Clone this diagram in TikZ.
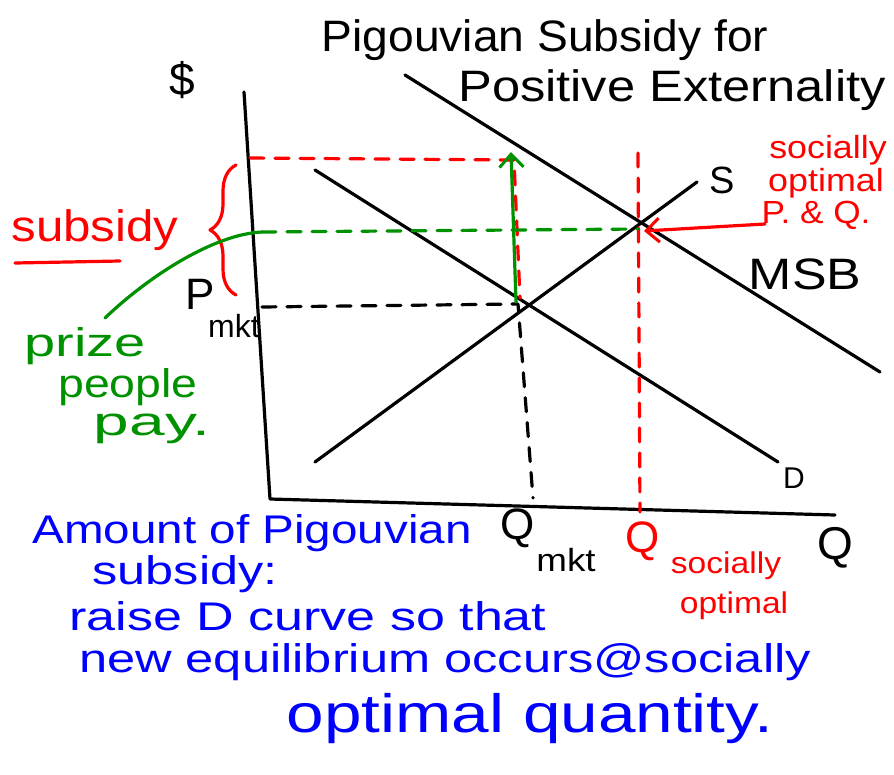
\documentclass[tikz,border=0pt]{standalone}
\usepackage{fontspec}
\usepackage{graphicx}
\setmainfont{Liberation Sans}
\usetikzlibrary{arrows.meta,decorations.pathreplacing}
\definecolor{hred}{RGB}{255,0,0}
\definecolor{hgreen}{RGB}{0,145,0}
\definecolor{hblue}{RGB}{0,0,255}
\newcommand{\hsx}[2]{\scalebox{#1}[1]{#2}}
\tikzset{
  pen/.style={line width=3.2pt, line cap=round, line join=round},
  dashpen/.style={pen, dash pattern=on 14pt off 11pt},
  lbl/.style={inner sep=0pt, font=\fontsize{44}{46}\selectfont},
  grn/.style={inner sep=0pt, text=hgreen, font=\fontsize{40}{42}\selectfont},
  sub/.style={inner sep=0pt, font=\fontsize{32}{34}\selectfont},
  bluetxt/.style={inner sep=0pt, text=hblue, font=\fontsize{40}{42}\selectfont},
}
\begin{document}
\begin{tikzpicture}[x=1pt,y=-1pt]
\useasboundingbox (0,0) rectangle (894,774);
\fill[white] (0,0) rectangle (894,774);
% key points
\coordinate (ytop) at (244,92);
\coordinate (orig) at (270,499);
\coordinate (xend) at (835,515);
\coordinate (msbA) at (405,75);
\coordinate (msbB) at (880,372);
\coordinate (dA) at (315,170);
\coordinate (dB) at (778,462);
\coordinate (sA) at (315,462);
\coordinate (sB) at (697,182);
\coordinate (e1) at (518,304);
\coordinate (e2) at (638,229);
\coordinate (pmk) at (262,307);
\coordinate (qmk) at (533,498);
\coordinate (rtop) at (638,153);
\coordinate (rbot) at (640,512);
\coordinate (ptop) at (250,158);
\coordinate (pcor) at (514,160);
\coordinate (rpb) at (520,298);
\coordinate (gl) at (262,232);
\coordinate (garA) at (516,302);
\coordinate (garB) at (511,152);
\coordinate (rarA) at (765,224);
\coordinate (rarB) at (644,231);
\coordinate (brB) at (236,295);
\coordinate (brT) at (236,165);
\coordinate (gcA) at (105,318);
\coordinate (ulA) at (15,263);
\coordinate (ulB) at (120,261);
% axes
\draw[pen] (ytop) -- (orig) -- (xend);
% curves
\draw[pen] (msbA) -- (msbB);
\draw[pen] (dA) -- (dB);
\draw[pen] (sA) -- (sB);
% market dashed
\draw[dashpen] (pmk) -- (e1) -- (qmk);
% socially optimal red dashed
\draw[dashpen, hred] (rtop) -- (rbot);
\draw[dashpen, hred] (ptop) -- (pcor) -- (rpb);
% green dashed price people pay
\draw[dashpen, hgreen] (gl) -- (e2);
% green arrow
\draw[pen, hgreen, -{Straight Barb[length=13pt,width=24pt,line width=3pt]}] (garA) -- (garB);
% red arrow to equilibrium
\draw[pen, hred, -{Straight Barb[length=13pt,width=24pt,line width=3pt]}] (rarA) -- (rarB);
% brace
\draw[pen, hred, decorate, decoration={brace, amplitude=26pt}] (brB) -- (brT);
% underline subsidy
\draw[pen, hred] (ulA) -- (ulB);
% green leader
\draw[pen, hgreen] (gcA) .. controls (150,275) and (215,234) .. (gl);
% texts
\node[lbl] (t1) at (545,40) {\hsx{1.05}{Pigouvian Subsidy for}};
\node[lbl] (t2) at (672,90) {\hsx{1.15}{Positive Externality}};
\node[lbl, font=\fontsize{46}{48}\selectfont] (dol) at (182,80) {\$};
\node[lbl, text=hred] (subs) at (95,230) {\hsx{1.12}{subsidy}};
\node[grn] (pz1) at (85,346) {\hsx{1.4}{prize}};
\node[grn] (pz2) at (128,387) {\hsx{1.16}{people}};
\node[grn] (pz3) at (152,429) {\hsx{1.6}{pay.}};
\node[lbl] (pm) at (200,294) {P};
\node[sub] (pms) at (234,326) {mkt};
\node[lbl] (qm) at (518,528) {Q};
\node[sub] (qms) at (566,560) {\hsx{1.15}{mkt}};
\node[lbl, text=hred] (qs) at (643,541) {Q};
\node[sub, text=hred, font=\fontsize{30}{32}\selectfont] (qss1) at (726,566) {\hsx{1.12}{socially}};
\node[sub, text=hred, font=\fontsize{30}{32}\selectfont] (qss2) at (734,606) {\hsx{1.12}{optimal}};
\node[lbl, font=\fontsize{46}{48}\selectfont] (qax) at (835,548) {Q};
\node[sub, text=hred] (so1) at (828,150) {\hsx{1.12}{socially}};
\node[sub, text=hred] (so2) at (826,183) {\hsx{1.12}{optimal}};
\node[sub, text=hred] (so3) at (816,215) {\hsx{1.1}{P. \& Q.}};
\node[lbl] (msb) at (805,274) {\hsx{1.18}{MSB}};
\node[lbl, font=\fontsize{38}{40}\selectfont] (sl) at (722,180) {S};
\node[lbl, font=\fontsize{30}{32}\selectfont] (dl) at (794,478) {D};
\node[bluetxt] (b1) at (252,533) {\hsx{1.19}{Amount of Pigouvian}};
\node[bluetxt] (b2) at (185,574) {\hsx{1.26}{subsidy:}};
\node[bluetxt] (b3) at (308,616) {\hsx{1.3}{raise D curve so that}};
\node[bluetxt] (b4) at (445,662) {\hsx{1.265}{new equilibrium occurs@socially}};
\node[bluetxt, font=\fontsize{54}{56}\selectfont] (b5) at (530,719) {\hsx{1.25}{optimal quantity.}};
\end{tikzpicture}
\end{document}
